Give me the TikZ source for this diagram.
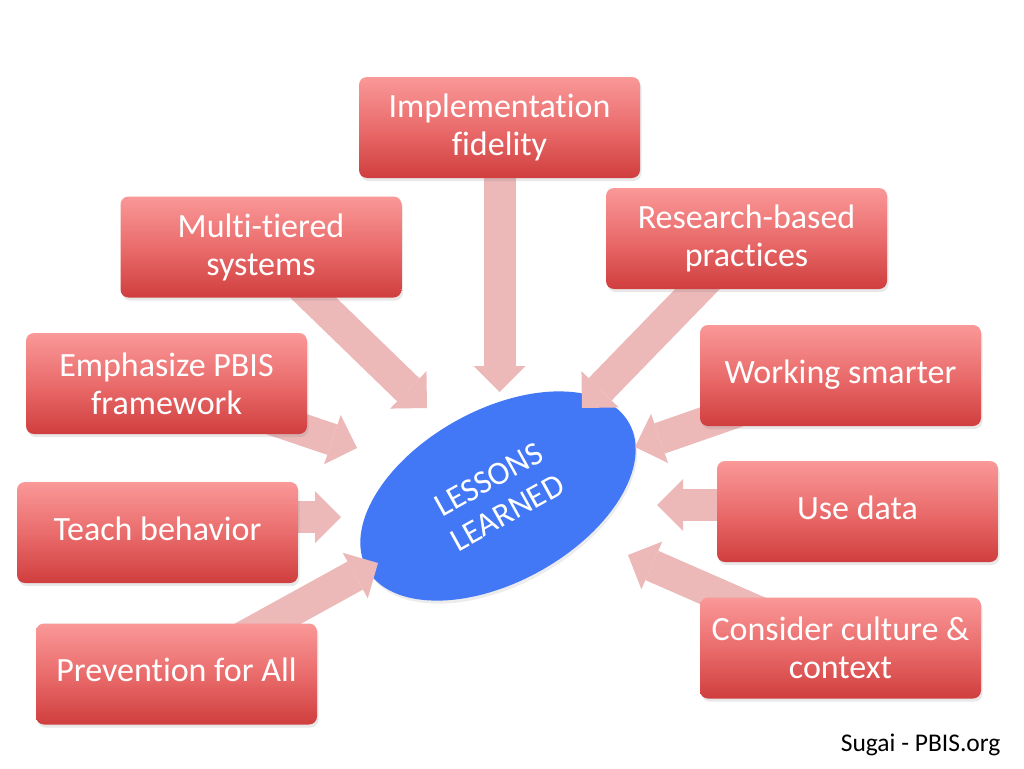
\documentclass[tikz,border=0pt]{standalone}
\usepackage{fontspec}
\setmainfont{Carlito}[Ligatures=CommonOff]
\usetikzlibrary{shapes.geometric,arrows.meta,shadows}
\definecolor{boxtop}{RGB}{250,152,152}
\definecolor{boxmid}{RGB}{234,108,108}
\definecolor{boxbot}{RGB}{208,62,62}
\definecolor{arrowpink}{RGB}{236,184,184}
\definecolor{lessonblue}{RGB}{66,120,245}
\pgfdeclarelayer{back}
\pgfdeclarelayer{mid}
\pgfsetlayers{back,mid,main}
\begin{document}
\begin{tikzpicture}[x=1pt,y=-1pt,
  topic/.style={rectangle, rounded corners=8pt, minimum width=281pt, minimum height=101pt,
    inner sep=0pt, top color=boxtop, bottom color=boxbot, middle color=boxmid,
    text=white, font=\fontsize{34}{38}\selectfont, align=center,
    drop shadow={shadow xshift=1.5pt, shadow yshift=-3pt, opacity=0.18}},
  hub/.style={ellipse, fill=lessonblue, minimum width=300pt, minimum height=172pt,
    inner sep=0pt, text=white, align=center, font=\fontsize{33}{38}\selectfont,
    drop shadow={shadow xshift=1.5pt, shadow yshift=-3pt, opacity=0.15}},
  flow/.style={draw=arrowpink, line width=32pt,
    -{Triangle[length=26pt 0 0, width=52pt 0 0, line width=0pt 0 0]}},
  credit/.style={anchor=east, text=black, font=\fontsize{25.5}{30}\selectfont}]
\begin{pgfonlayer}{back}
  \fill[white] (0,0) rectangle (1024,768);
  \node[hub, rotate=29] (lessons) at (498,496) {LESSONS\\LEARNED};
\end{pgfonlayer}
\useasboundingbox (0,0) rectangle (1024,768);

\node[topic] (impl) at (499.5,127.5) {Implementation\\fidelity};
\node[topic] (multi) at (261,247) {Multi-tiered\\systems};
\node[topic] (research) at (746.5,238.5) {Research-based\\practices};
\node[topic] (emph) at (166.5,383.5) {Emphasize PBIS\\framework};
\node[topic] (work) at (840.5,375.5) {\strut Working smarter};
\node[topic] (teach) at (157.5,532.5) {\strut Teach behavior};
\node[topic] (usedata) at (857.5,511.5) {\strut Use data};
\node[topic] (prev) at (176.5,674) {\strut Prevention for All};
\node[topic] (culture) at (840.5,648) {Consider culture \&\\context};
\node[credit] (sugai) at (1004,745) {Sugai - PBIS.org};

\begin{pgfonlayer}{mid}
  \coordinate (t1) at (499.5,392);
  \coordinate (t2) at (427,408);
  \coordinate (t3) at (582,408);
  \coordinate (t4) at (357,448);
  \coordinate (t5) at (635,447);
  \coordinate (t6) at (341,517);
  \coordinate (t7) at (657,505);
  \coordinate (t8) at (378,563);
  \coordinate (t9) at (628,555);
  \draw[flow] (impl.center) -- (t1);
  \draw[flow] (multi.center) -- (t2);
  \draw[flow] (research.center) -- (t3);
  \draw[flow] (emph.center) -- (t4);
  \draw[flow] (work.center) -- (t5);
  \draw[flow] (teach.center |- t6) -- (t6);
  \draw[flow] (usedata.center |- t7) -- (t7);
  \draw[flow] (prev.center) -- (t8);
  \draw[flow] (culture.center) -- (t9);
\end{pgfonlayer}
\end{tikzpicture}
\end{document}
